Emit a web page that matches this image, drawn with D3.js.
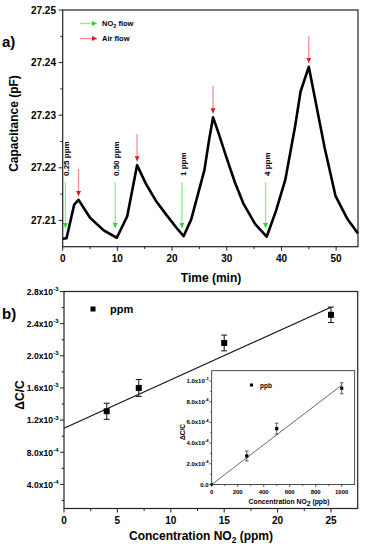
<!DOCTYPE html>
<html>
<head>
<meta charset="utf-8">
<script src="https://cdn.jsdelivr.net/npm/d3@7"></script>
<style>
  body { margin: 0; background: #fff; }
  svg { display: block; font-family: "Liberation Sans", Arial, sans-serif; font-weight: bold; }
  text { fill: #000; }
</style>
</head>
<body>
<div id="chart"></div>
<script>
// panel a: capacitance vs time
var timeMin = [0, 0.7, 2.1, 2.9, 5.0, 7.5, 9.9, 11.8, 13.6, 15.2, 17.0, 19.0, 20.8, 22.1, 23.5, 25.9, 26.8,
    27.5, 28.5, 30.0, 31.5, 33.0, 35.2, 37.3, 39.0, 40.7, 42.5, 43.5, 45.0, 47.9, 49.9, 52.1, 54.0];
var capPF = [27.2065, 27.2066, 27.2130, 27.2139, 27.2105, 27.2081, 27.2067, 27.2108, 27.2205, 27.2170,
    27.2138, 27.2110, 27.2086, 27.2070, 27.2102, 27.2195, 27.2255, 27.2296, 27.2266, 27.2218, 27.2172,
    27.2133, 27.2093, 27.2069, 27.2118, 27.2177, 27.2279, 27.2345, 27.2392, 27.2238, 27.2146, 27.2102,
    27.2075];
var gasOnTimes = [0.5, 9.6, 21.8, 37.1];
var gasLabels = ["0.25 ppm", "0.50 ppm", "1 ppm", "4 ppm"];
var airOnTimes = [2.9, 13.6, 27.5, 45.0];
var xTicksA = [0, 10, 20, 30, 40, 50];
var yTicksA = [27.21, 27.22, 27.23, 27.24, 27.25];

// panel b: response vs concentration (ppm)
var concPpm = [4, 7, 15, 25];
var respPpm = [1.31e-3, 1.60e-3, 2.16e-3, 2.51e-3];
var errPpm = [1.0e-4, 1.05e-4, 0.98e-4, 0.96e-4];
var fitPpm = [1.10e-3, 6.02e-5]; // intercept, slope
var xTicksB = [0, 5, 10, 15, 20, 25];
var yTicksB = [4e-4, 8e-4, 1.2e-3, 1.6e-3, 2.0e-3, 2.4e-3, 2.8e-3];

// inset: ppb
var concPpb = [270, 500, 1000];
var respPpb = [2.76e-4, 5.4e-4, 9.3e-4];
var errPpb = [4.8e-5, 5.3e-5, 5.3e-5];
var fitPpb = [0, 9.6e-7];
var xTicksIn = [0, 200, 400, 600, 800, 1000];
var yTicksIn = [0, 2e-4, 4e-4, 6e-4, 8e-4, 1e-3];

var svg = d3.select("#chart").append("svg")
    .attr("width", 369)
    .attr("height", 549);

var defs = svg.append("defs");
function addHead(id, color) {
    defs.append("marker")
        .attr("id", id)
        .attr("viewBox", "0 0 10 10")
        .attr("refX", 10).attr("refY", 5)
        .attr("markerWidth", 5).attr("markerHeight", 5)
        .attr("markerUnits", "userSpaceOnUse")
        .attr("orient", "auto")
        .append("path")
        .attr("d", "M0,0L10,5L0,10Z")
        .attr("fill", color);
}
addHead("headG", "#22dd22");
addHead("headR", "#e01818");

// split number into mantissa / exponent strings
function sciParts(v) {
    if (v === 0) return ["0.0", null];
    var e = Math.floor(Math.log10(v) + 1e-9);
    var m = v / Math.pow(10, e);
    return [m.toFixed(1) + "x10", String(e)];
}

function sciLabel(sel, v, size) {
    var p = sciParts(v);
    sel.append("tspan").text(p[0]);
    if (p[1] !== null) {
        sel.append("tspan")
            .attr("dy", -size * 0.45)
            .attr("font-size", size * 0.7)
            .text(p[1]);
    }
}

// frame + axes helper
function frame(g, x, y, w, h, sw) {
    g.append("rect")
        .attr("x", x).attr("y", y)
        .attr("width", w).attr("height", h)
        .attr("fill", "none")
        .attr("stroke", "#222")
        .attr("stroke-width", sw);
}

function ticksX(g, scale, major, minor, yPos, len, sw) {
    g.selectAll(null).data(major.concat(minor)).enter().append("line")
        .attr("x1", function (d) { return scale(d); })
        .attr("x2", function (d) { return scale(d); })
        .attr("y1", yPos)
        .attr("y2", function (d, i) { return yPos + (i < major.length ? len : len * 0.6); })
        .attr("stroke", "#222").attr("stroke-width", sw);
}

function ticksY(g, scale, major, minor, xPos, len, sw) {
    g.selectAll(null).data(major.concat(minor)).enter().append("line")
        .attr("y1", function (d) { return scale(d); })
        .attr("y2", function (d) { return scale(d); })
        .attr("x1", xPos)
        .attr("x2", function (d, i) { return xPos - (i < major.length ? len : len * 0.6); })
        .attr("stroke", "#222").attr("stroke-width", sw);
}

// ---------------- panel a ----------------
var xA = d3.scaleLinear().domain([0, 54]).range([62.7, 358]);
var yA = d3.scaleLinear().domain([27.205, 27.25]).range([246.7, 10]);
var gA = svg.append("g");

ticksX(gA, xA, xTicksA, [5, 15, 25, 35, 45], 246.7, 4, 1);
ticksY(gA, yA, yTicksA, [27.215, 27.225, 27.235, 27.245], 62.7, 4, 1);

gA.selectAll(null).data(xTicksA).enter().append("text")
    .attr("x", function (d) { return xA(d); })
    .attr("y", 262)
    .attr("text-anchor", "middle")
    .attr("font-size", 10)
    .text(function (d) { return d; });

gA.selectAll(null).data(yTicksA).enter().append("text")
    .attr("x", 56)
    .attr("y", function (d) { return yA(d) + 3.5; })
    .attr("text-anchor", "end")
    .attr("font-size", 10)
    .text(function (d) { return d.toFixed(2); });

var line = d3.line()
    .x(function (d) { return xA(d[0]); })
    .y(function (d) { return yA(d[1]); });

gA.append("path")
    .datum(d3.zip(timeMin, capPF))
    .attr("d", line)
    .attr("fill", "none")
    .attr("stroke", "#000")
    .attr("stroke-width", 2.6)
    .attr("stroke-linejoin", "round");

// NO2 on arrows
gA.selectAll(null).data(gasOnTimes).enter().append("line")
    .attr("x1", function (d) { return xA(d); })
    .attr("x2", function (d) { return xA(d); })
    .attr("y1", 182.5)
    .attr("y2", 228)
    .attr("stroke", "#88f088")
    .attr("stroke-width", 1.3)
    .attr("marker-end", "url(#headG)");

gA.selectAll(null).data(gasOnTimes).enter().append("text")
    .attr("transform", function (d) { return "translate(" + (xA(d) + 4) + ",176) rotate(-90)"; })
    .attr("font-size", 8)
    .text(function (d, i) { return gasLabels[i]; });

// air on arrows, just above each peak
function nearestCap(t) {
    var best = 0;
    timeMin.forEach(function (v, i) {
        if (Math.abs(v - t) < Math.abs(timeMin[best] - t)) best = i;
    });
    return capPF[best];
}
gA.selectAll(null).data(airOnTimes).enter().append("line")
    .attr("x1", function (d) { return xA(d); })
    .attr("x2", function (d) { return xA(d); })
    .attr("y1", function (d) { return yA(nearestCap(d)) - 31; })
    .attr("y2", function (d) { return yA(nearestCap(d)) - 4; })
    .attr("stroke", "#f09090")
    .attr("stroke-width", 1.3)
    .attr("marker-end", "url(#headR)");

// legend
var legA = [["#88f088", "headG", 23.5, "NO", "2", " flow"], ["#f09090", "headR", 38.5, "Air flow", null, ""]];
legA.forEach(function (l) {
    gA.append("line")
        .attr("x1", 80).attr("x2", 97)
        .attr("y1", l[2]).attr("y2", l[2])
        .attr("stroke", l[0]).attr("stroke-width", 1.3)
        .attr("marker-end", "url(#" + l[1] + ")");
    var t = gA.append("text").attr("x", 102).attr("y", l[2] + 2.8).attr("font-size", 7.5);
    t.append("tspan").text(l[3]);
    if (l[4]) {
        t.append("tspan").attr("dy", 2).attr("font-size", 5.5).text(l[4]);
        t.append("tspan").attr("dy", -2).text(l[5]);
    }
});

frame(gA, 62.7, 10, 358 - 62.7, 246.7 - 10, 1.2);

gA.append("text").attr("x", 2).attr("y", 47).attr("font-size", 15).text("a)");
gA.append("text")
    .attr("transform", "translate(17.5,123.5) rotate(-90)")
    .attr("text-anchor", "middle")
    .attr("font-size", 12)
    .text("Capacitance (pF)");
gA.append("text")
    .attr("x", 211).attr("y", 282)
    .attr("text-anchor", "middle")
    .attr("font-size", 12)
    .text("Time (min)");

// ---------------- panel b ----------------
var xB = d3.scaleLinear().domain([0, 27.5]).range([64, 357.7]);
var yB = d3.scaleLinear().domain([1e-4, 2.8e-3]).range([508.5, 291.5]);
var gB = svg.append("g");

ticksX(gB, xB, xTicksB, [2.5, 7.5, 12.5, 17.5, 22.5], 508.5, 4, 1);
ticksY(gB, yB, yTicksB, [2e-4, 6e-4, 1.0e-3, 1.4e-3, 1.8e-3, 2.2e-3, 2.6e-3], 64, 4, 1);

gB.selectAll(null).data(xTicksB).enter().append("text")
    .attr("x", function (d) { return xB(d); })
    .attr("y", 523.5)
    .attr("text-anchor", "middle")
    .attr("font-size", 10)
    .text(function (d) { return d; });

gB.selectAll(null).data(yTicksB).enter().append("text")
    .attr("x", 58.5)
    .attr("y", function (d) { return yB(d) + 3.3; })
    .attr("text-anchor", "end")
    .attr("font-size", 8.6)
    .each(function (d) { sciLabel(d3.select(this), d, 8.6); });

gB.append("line")
    .attr("x1", xB(0)).attr("x2", xB(25))
    .attr("y1", yB(fitPpm[0])).attr("y2", yB(fitPpm[0] + fitPpm[1] * 25))
    .attr("stroke", "#111").attr("stroke-width", 1.1);

var ptsB = d3.zip(concPpm, respPpm, errPpm);
var eb = gB.selectAll(null).data(ptsB).enter().append("g");
eb.append("line")
    .attr("x1", function (d) { return xB(d[0]); })
    .attr("x2", function (d) { return xB(d[0]); })
    .attr("y1", function (d) { return yB(d[1] - d[2]); })
    .attr("y2", function (d) { return yB(d[1] + d[2]); })
    .attr("stroke", "#111").attr("stroke-width", 1);
[-1, 1].forEach(function (s) {
    eb.append("line")
        .attr("x1", function (d) { return xB(d[0]) - 3; })
        .attr("x2", function (d) { return xB(d[0]) + 3; })
        .attr("y1", function (d) { return yB(d[1] + s * d[2]); })
        .attr("y2", function (d) { return yB(d[1] + s * d[2]); })
        .attr("stroke", "#111").attr("stroke-width", 1);
});
eb.append("rect")
    .attr("x", function (d) { return xB(d[0]) - 3; })
    .attr("y", function (d) { return yB(d[1]) - 3; })
    .attr("width", 6).attr("height", 6)
    .attr("fill", "#000");

gB.append("rect").attr("x", 90.5).attr("y", 306.5).attr("width", 5).attr("height", 5).attr("fill", "#000");
gB.append("text").attr("x", 110).attr("y", 313).attr("font-size", 11).text("ppm");

frame(gB, 64, 291.5, 357.7 - 64, 508.5 - 291.5, 1.2);

gB.append("text").attr("x", 2).attr("y", 319).attr("font-size", 15).text("b)");
gB.append("text")
    .attr("transform", "translate(23.5,395) rotate(-90)")
    .attr("text-anchor", "middle")
    .attr("font-size", 12)
    .text("\u0394C/C");
var xtB = gB.append("text")
    .attr("x", 201).attr("y", 540)
    .attr("text-anchor", "middle")
    .attr("font-size", 12);
xtB.append("tspan").text("Concentration NO");
xtB.append("tspan").attr("dy", 3).attr("font-size", 8.5).text("2");
xtB.append("tspan").attr("dy", -3).text(" (ppm)");

// ---------------- inset ----------------
var xI = d3.scaleLinear().domain([0, 1100]).range([211.7, 354.7]);
var yI = d3.scaleLinear().domain([0, 1.1e-3]).range([484.5, 370.7]);
var gI = svg.append("g");

gI.append("rect")
    .attr("x", 211.7).attr("y", 370.7)
    .attr("width", 354.7 - 211.7).attr("height", 484.5 - 370.7)
    .attr("fill", "#fff");

ticksX(gI, xI, xTicksIn, [100, 300, 500, 700, 900], 484.5, 2.5, 0.7);
ticksY(gI, yI, yTicksIn, [1e-4, 3e-4, 5e-4, 7e-4, 9e-4], 211.7, 2.5, 0.7);

gI.selectAll(null).data(xTicksIn).enter().append("text")
    .attr("x", function (d) { return xI(d); })
    .attr("y", 494)
    .attr("text-anchor", "middle")
    .attr("font-size", 6)
    .text(function (d) { return d; });

gI.selectAll(null).data(yTicksIn).enter().append("text")
    .attr("x", 208.5)
    .attr("y", function (d) { return yI(d) + 2; })
    .attr("text-anchor", "end")
    .attr("font-size", 6)
    .each(function (d) { sciLabel(d3.select(this), d, 6); });

gI.append("line")
    .attr("x1", xI(0)).attr("x2", xI(1000))
    .attr("y1", yI(fitPpb[0])).attr("y2", yI(fitPpb[0] + fitPpb[1] * 1000))
    .attr("stroke", "#444").attr("stroke-width", 0.8);

var ptsI = d3.zip(concPpb, respPpb, errPpb);
var ei = gI.selectAll(null).data(ptsI).enter().append("g");
ei.append("line")
    .attr("x1", function (d) { return xI(d[0]); })
    .attr("x2", function (d) { return xI(d[0]); })
    .attr("y1", function (d) { return yI(d[1] - d[2]); })
    .attr("y2", function (d) { return yI(d[1] + d[2]); })
    .attr("stroke", "#222").attr("stroke-width", 0.7);
[-1, 1].forEach(function (s) {
    ei.append("line")
        .attr("x1", function (d) { return xI(d[0]) - 1.8; })
        .attr("x2", function (d) { return xI(d[0]) + 1.8; })
        .attr("y1", function (d) { return yI(d[1] + s * d[2]); })
        .attr("y2", function (d) { return yI(d[1] + s * d[2]); })
        .attr("stroke", "#222").attr("stroke-width", 0.7);
});
ei.append("rect")
    .attr("x", function (d) { return xI(d[0]) - 1.6; })
    .attr("y", function (d) { return yI(d[1]) - 1.6; })
    .attr("width", 3.2).attr("height", 3.2)
    .attr("fill", "#000");
gI.append("circle").attr("cx", xI(0)).attr("cy", yI(0)).attr("r", 1.4).attr("fill", "#000");

gI.append("rect").attr("x", 250).attr("y", 383.5).attr("width", 3).attr("height", 3).attr("fill", "#000");
gI.append("text").attr("x", 260).attr("y", 387.5).attr("font-size", 6.5).text("ppb");

frame(gI, 211.7, 370.7, 354.7 - 211.7, 484.5 - 370.7, 0.8);

gI.append("text")
    .attr("transform", "translate(184.5,432) rotate(-90)")
    .attr("text-anchor", "middle")
    .attr("font-size", 6.5)
    .text("\u0394C/C");
var xtI = gI.append("text")
    .attr("x", 289).attr("y", 504)
    .attr("text-anchor", "middle")
    .attr("font-size", 6.8);
xtI.append("tspan").text("Concentration NO");
xtI.append("tspan").attr("dy", 1.5).attr("font-size", 6.8).text("2");
xtI.append("tspan").attr("dy", -1.5).text(" (ppb)");
</script>
</body>
</html>
